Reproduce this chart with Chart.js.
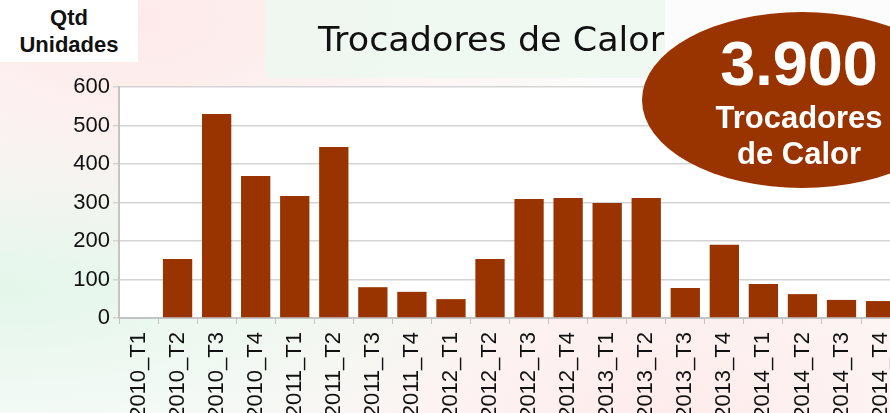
<!DOCTYPE html>
<html>
<head>
<meta charset="utf-8">
<script src="https://cdn.jsdelivr.net/npm/chart.js@4/dist/chart.umd.min.js"></script>
<style>
  html, body { margin: 0; padding: 0; }
  body {
    width: 890px; height: 413px; overflow: hidden; position: relative;
    background:
      radial-gradient(ellipse at 15% 5%, rgba(255,225,225,0.7), rgba(255,255,255,0) 45%),
      radial-gradient(ellipse at 0% 70%, rgba(225,245,232,0.9), rgba(255,255,255,0) 45%),
      radial-gradient(ellipse at 75% 100%, rgba(255,232,232,0.8), rgba(255,255,255,0) 55%),
      #fbfcfb;
  }
  #wrap { position: absolute; left: 0; top: 0; width: 915px; height: 440px; }
  #qtd {
    position: absolute; left: 0; top: 0; width: 138px; height: 62px; background: #fff;
    font: bold 22px "Liberation Sans", Arial, sans-serif; color: #111;
    text-align: center; line-height: 27px; padding-top: 4px; box-sizing: border-box;
  }
  #titlebox {
    position: absolute; left: 265px; top: 0; width: 400px; height: 78px;
    background: rgba(236,248,240,0.85);
  }
  #title {
    position: absolute; left: 281px; top: 20px; width: 420px; text-align: center;
    font: 33px "DejaVu Sans", Verdana, sans-serif; line-height: 40px; color: #111;
    transform: scaleX(1.06); transform-origin: 210px 0;
  }
  #badge {
    position: absolute; left: 642px; top: 12px; width: 320px; height: 176px;
    border-radius: 50%; background: #993300;
  }
  #badge-text {
    position: absolute; left: 701px; top: 28px; width: 196px; text-align: center;
    color: #fff; font-family: "Liberation Sans", Arial, sans-serif; font-weight: bold;
  }
  #badge-text .big { font-size: 63px; line-height: 70px; }
  #badge-text .small { font-size: 31px; line-height: 36px; margin-top: 2px; }
</style>
</head>
<body>
<div id="titlebox"></div>
<div id="wrap"><canvas id="chart" width="915" height="440"></canvas></div>
<div id="qtd">Qtd<br>Unidades</div>
<div id="title">Trocadores de Calor</div>
<div id="badge"></div>
<div id="badge-text"><div class="big">3.900</div><div class="small">Trocadores<br>de Calor</div></div>
<script>
const quarters = [
  "2010_T1", "2010_T2", "2010_T3", "2010_T4",
  "2011_T1", "2011_T2", "2011_T3", "2011_T4",
  "2012_T1", "2012_T2", "2012_T3", "2012_T4",
  "2013_T1", "2013_T2", "2013_T3", "2013_T4",
  "2014_T1", "2014_T2", "2014_T3", "2014_T4"
];
const units = [
  0, 153, 530, 369,
  317, 444, 80, 68,
  49, 153, 309, 312,
  299, 312, 78, 190,
  88, 62, 47, 44
];
const yTicks = [0, 100, 200, 300, 400, 500, 600];

// white plot area
const plotBg = {
  id: "plotBg",
  beforeDraw(chart) {
    const { ctx, chartArea: a } = chart;
    ctx.save();
    ctx.fillStyle = "#ffffff";
    ctx.fillRect(a.left, a.top, a.right - a.left, a.bottom - a.top);
    ctx.restore();
  }
};

new Chart(document.getElementById("chart"), {
  type: "bar",
  data: {
    labels: quarters,
    datasets: [{
      label: "Trocadores de Calor",
      data: units,
      backgroundColor: "#993300",
      barPercentage: 0.75,
      categoryPercentage: 1
    }]
  },
  plugins: [plotBg],
  options: {
    responsive: false,
    animation: false,
    layout: { padding: { top: 87, right: 2, left: 0, bottom: 0 } },
    plugins: { legend: { display: false }, tooltip: { enabled: false } },
    scales: {
      x: {
        grid: { display: true, drawOnChartArea: false, offset: true, tickLength: 6, color: "#c4c4c4" },
        border: { color: "#c4c4c4", width: 2 },
        ticks: {
          minRotation: 90, maxRotation: 90, autoSkip: false, padding: 8,
          color: "#111", font: { family: "Liberation Sans, Arial, sans-serif", size: 22 }
        },
        afterFit(scale) { scale.height = 440 - 318; }
      },
      y: {
        min: 0, max: 600,
        afterBuildTicks(scale) { scale.ticks = yTicks.map(v => ({ value: v })); },
        grid: { color: "#d4d4d4", tickLength: 6, lineWidth: 1.5 },
        border: { color: "#c4c4c4", width: 2 },
        ticks: {
          padding: 3, color: "#111",
          font: { family: "Liberation Sans, Arial, sans-serif", size: 22 }
        },
        afterFit(scale) { scale.width = 119; }
      }
    }
  }
});
</script>
</body>
</html>
